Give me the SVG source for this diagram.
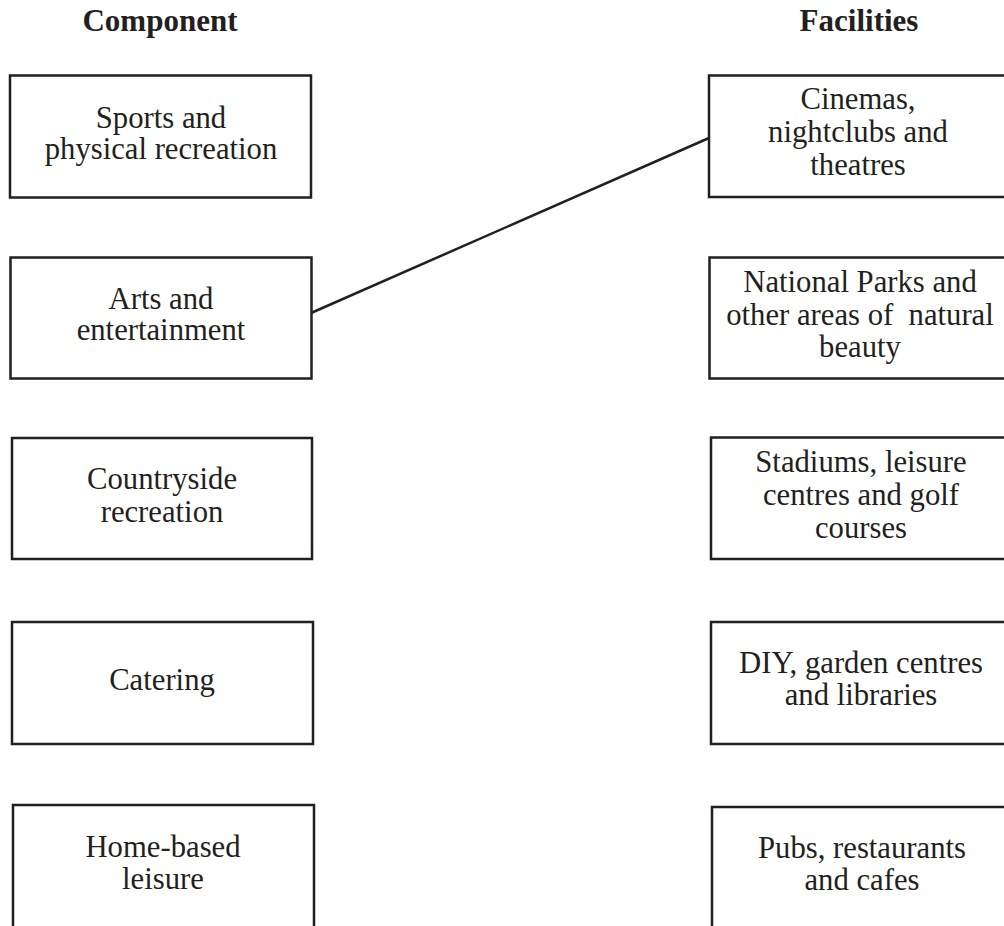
<svg xmlns="http://www.w3.org/2000/svg" width="1004" height="926" viewBox="0 0 1004 926">
<style>
.box{fill:#fff;stroke:#231f20;stroke-width:2.5}
.t{font-family:"Liberation Serif","Times New Roman",serif;font-size:30.7px;fill:#231f20;text-anchor:middle}
.h{font-family:"Liberation Serif","Times New Roman",serif;font-size:31px;font-weight:bold;fill:#231f20;text-anchor:middle}
.c{stroke:#231f20;stroke-width:2.5;fill:none}
</style>
<rect width="1004" height="926" fill="#fff"/>
<g id="headers">
<text class="h" x="160" y="31">Component</text>
<text class="h" x="859" y="31">Facilities</text>
</g>
<g id="connectors">
<line class="c" x1="311" y1="313" x2="709" y2="138"/>
</g>
<g id="c1"><rect class="box" x="10" y="75.5" width="301" height="122"/>
<text class="t" x="161" y="128">Sports and</text><text class="t" x="161" y="159">physical recreation</text></g>
<g id="c2"><rect class="box" x="10.5" y="257.5" width="301" height="121"/>
<text class="t" x="161" y="309">Arts and</text><text class="t" x="161" y="340">entertainment</text></g>
<g id="c3"><rect class="box" x="12" y="438" width="300" height="121"/>
<text class="t" x="162" y="489">Countryside</text><text class="t" x="162" y="522">recreation</text></g>
<g id="c4"><rect class="box" x="12" y="622" width="301" height="122"/>
<text class="t" x="162" y="690">Catering</text></g>
<g id="c5"><rect class="box" x="13" y="805" width="301" height="126"/>
<text class="t" x="163" y="857">Home-based</text><text class="t" x="163" y="889">leisure</text></g>
<g id="f1"><rect class="box" x="709" y="75.5" width="302" height="121.5"/>
<text class="t" x="858" y="109">Cinemas,</text><text class="t" x="858" y="142">nightclubs and</text><text class="t" x="858" y="175">theatres</text></g>
<g id="f2"><rect class="box" x="709.5" y="257.5" width="302" height="121"/>
<text class="t" x="860" y="292">National Parks and</text><text class="t" x="860" y="325">other areas of&#160; natural</text><text class="t" x="860" y="357">beauty</text></g>
<g id="f3"><rect class="box" x="711" y="437.5" width="302" height="121.5"/>
<text class="t" x="861" y="472">Stadiums, leisure</text><text class="t" x="861" y="505">centres and golf</text><text class="t" x="861" y="538">courses</text></g>
<g id="f4"><rect class="box" x="711" y="622" width="302" height="122"/>
<text class="t" x="861" y="673">DIY, garden centres</text><text class="t" x="861" y="705">and libraries</text></g>
<g id="f5"><rect class="box" x="712" y="807" width="302" height="126"/>
<text class="t" x="862" y="858">Pubs, restaurants</text><text class="t" x="862" y="890">and cafes</text></g>
</svg>
